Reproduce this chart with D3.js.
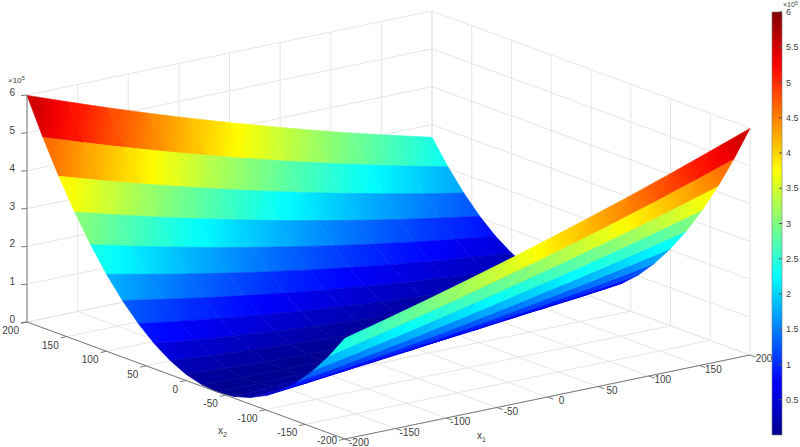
<!DOCTYPE html>
<html>
<head>
<meta charset="utf-8">
<script src="https://cdn.jsdelivr.net/npm/d3@7"></script>
<style>
  body { margin: 0; background: #fff; }
  text { font-family: "Liberation Sans", Arial, sans-serif; font-size: 10px; fill: #404040; }
</style>
</head>
<body>
<svg id="chart" width="800" height="447"></svg>
<script>
// grid of x1 and x2 sample values
var x1Vals = [-200, -160, -120, -80, -40, 0, 40, 80, 120, 160, 200];
var x2Vals = [-200, -180, -160, -140, -120, -100, -80, -60, -40, -20, 0,
              20, 40, 60, 80, 100, 120, 140, 160, 180, 200];
// z values in thousands, rows follow x2Vals, columns follow x1Vals
var zRows = [
  [266.2, 293.5, 322.2, 352.1, 383.4, 416.0, 450.0, 485.2, 521.8, 559.8, 599.0],
  [203.8, 227.8, 253.1, 279.7, 307.7, 337.0, 367.6, 399.5, 432.8, 467.4, 503.4],
  [149.8, 170.4, 192.4, 215.7, 240.3, 266.2, 293.5, 322.2, 352.1, 383.4, 416.0],
  [104.0, 121.3, 139.9, 159.9, 181.2, 203.8, 227.8, 253.1, 279.7, 307.7, 337.0],
  [66.6, 80.5, 95.9, 112.5, 130.5, 149.8, 170.4, 192.4, 215.7, 240.3, 266.2],
  [37.4, 48.1, 60.1, 73.4, 88.0, 104.0, 121.3, 139.9, 159.9, 181.2, 203.8],
  [16.6, 24.0, 32.6, 42.6, 53.9, 66.6, 80.5, 95.9, 112.5, 130.5, 149.8],
  [4.2, 8.2, 13.5, 20.1, 28.1, 37.4, 48.1, 60.1, 73.4, 88.0, 104.0],
  [0, 0.7, 2.7, 6.0, 10.7, 16.6, 24.0, 32.6, 42.6, 53.9, 66.6],
  [4.2, 1.5, 0.2, 0.2, 1.5, 4.2, 8.2, 13.5, 20.1, 28.1, 37.4],
  [16.6, 10.7, 6.0, 2.7, 0.7, 0, 0.7, 2.7, 6.0, 10.7, 16.6],
  [37.4, 28.1, 20.1, 13.5, 8.2, 4.2, 1.5, 0.2, 0.2, 1.5, 4.2],
  [66.6, 53.9, 42.6, 32.6, 24.0, 16.6, 10.7, 6.0, 2.7, 0.7, 0],
  [104.0, 88.0, 73.4, 60.1, 48.1, 37.4, 28.1, 20.1, 13.5, 8.2, 4.2],
  [149.8, 130.5, 112.5, 95.9, 80.5, 66.6, 53.9, 42.6, 32.6, 24.0, 16.6],
  [203.8, 181.2, 159.9, 139.9, 121.3, 104.0, 88.0, 73.4, 60.1, 48.1, 37.4],
  [266.2, 240.3, 215.7, 192.4, 170.4, 149.8, 130.5, 112.5, 95.9, 80.5, 66.6],
  [337.0, 307.7, 279.7, 253.1, 227.8, 203.8, 181.2, 159.9, 139.9, 121.3, 104.0],
  [416.0, 383.4, 352.1, 322.2, 293.5, 266.2, 240.3, 215.7, 192.4, 170.4, 149.8],
  [503.4, 467.4, 432.8, 399.5, 367.6, 337.0, 307.7, 279.7, 253.1, 227.8, 203.8],
  [599.0, 559.8, 521.8, 485.2, 450.0, 416.0, 383.4, 352.1, 322.2, 293.5, 266.2]
];
var x1Ticks = [-200, -150, -100, -50, 0, 50, 100, 150, 200];
var x2Ticks = [-200, -150, -100, -50, 0, 50, 100, 150, 200];
var zTicks = [0, 1, 2, 3, 4, 5, 6];
var cbTicks = [0.5, 1, 1.5, 2, 2.5, 3, 3.5, 4, 4.5, 5, 5.5, 6];

var svg = d3.select("#chart");
var defs = svg.append("defs");

// projection: front floor corner (x1=-200,x2=-200) -> (345,439)
var sx1 = d3.scaleLinear().domain([-200, 200]).range([0, 1]);
var sx2 = d3.scaleLinear().domain([-200, 200]).range([0, 1]);
var sz = d3.scaleLinear().domain([0, 600]).range([0, 227]);
var front = [345, 439], e1 = [405, -84], e2 = [-318, -117];
function proj(a, b, z) {
  var u = sx1(a), v = sx2(b);
  return [front[0] + u * e1[0] + v * e2[0], front[1] + u * e1[1] + v * e2[1] - sz(z)];
}
function pts(arr) { return arr.map(function (p) { return p.join(","); }).join(" "); }

var jet = d3.scaleLinear()
  .domain([0, 75, 225, 375, 525, 600])
  .range(["#00008f", "#0000ff", "#00ffff", "#ffff00", "#ff0000", "#800000"]);

var gridColor = "#e6e6e6";
var axisColor = "#7a7a7a";
var g = svg.append("g");

// floor grid and back walls
x1Ticks.forEach(function (t) {
  g.append("line").attr("stroke", gridColor)
    .attr("x1", proj(t, -200, 0)[0]).attr("y1", proj(t, -200, 0)[1])
    .attr("x2", proj(t, 200, 0)[0]).attr("y2", proj(t, 200, 0)[1]);
  g.append("line").attr("stroke", gridColor)
    .attr("x1", proj(t, 200, 0)[0]).attr("y1", proj(t, 200, 0)[1])
    .attr("x2", proj(t, 200, 600)[0]).attr("y2", proj(t, 200, 600)[1]);
});
x2Ticks.forEach(function (t) {
  g.append("line").attr("stroke", gridColor)
    .attr("x1", proj(-200, t, 0)[0]).attr("y1", proj(-200, t, 0)[1])
    .attr("x2", proj(200, t, 0)[0]).attr("y2", proj(200, t, 0)[1]);
  g.append("line").attr("stroke", gridColor)
    .attr("x1", proj(200, t, 0)[0]).attr("y1", proj(200, t, 0)[1])
    .attr("x2", proj(200, t, 600)[0]).attr("y2", proj(200, t, 600)[1]);
});
zTicks.forEach(function (t) {
  var z = t * 100;
  var a = proj(-200, 200, z), b = proj(200, 200, z), c = proj(200, -200, z);
  g.append("polyline").attr("fill", "none").attr("stroke", gridColor).attr("points", pts([a, b, c]));
});

// surface quads, far to near; each quad shaded along x1 between its edge colours
var quads = [];
for (var j = 0; j < x2Vals.length - 1; j++) {
  for (var i = 0; i < x1Vals.length - 1; i++) {
    var zs = [zRows[j][i], zRows[j][i + 1], zRows[j + 1][i + 1], zRows[j + 1][i]];
    var p = [proj(x1Vals[i], x2Vals[j], zs[0]), proj(x1Vals[i + 1], x2Vals[j], zs[1]),
             proj(x1Vals[i + 1], x2Vals[j + 1], zs[2]), proj(x1Vals[i], x2Vals[j + 1], zs[3])];
    quads.push({
      id: "q" + j + "_" + i,
      p: p,
      a: [(p[0][0] + p[3][0]) / 2, (p[0][1] + p[3][1]) / 2],
      b: [(p[1][0] + p[2][0]) / 2, (p[1][1] + p[2][1]) / 2],
      za: (zs[0] + zs[3]) / 2,
      zb: (zs[1] + zs[2]) / 2,
      depth: (x1Vals[i] + x1Vals[i + 1]) / 2 + 1.274 * (x2Vals[j] + x2Vals[j + 1]) / 2
    });
  }
}
quads.sort(function (a, b) { return b.depth - a.depth; });
quads.forEach(function (d) {
  var lg = defs.append("linearGradient").attr("id", d.id)
    .attr("gradientUnits", "userSpaceOnUse")
    .attr("x1", d.a[0]).attr("y1", d.a[1]).attr("x2", d.b[0]).attr("y2", d.b[1]);
  lg.append("stop").attr("offset", 0).attr("stop-color", jet(d.za));
  lg.append("stop").attr("offset", 0.5).attr("stop-color", jet((d.za + d.zb) / 2));
  lg.append("stop").attr("offset", 1).attr("stop-color", jet(d.zb));
});
svg.append("g").selectAll("polygon").data(quads).enter().append("polygon")
  .attr("points", function (d) { return pts(d.p); })
  .attr("fill", function (d) { return "url(#" + d.id + ")"; })
  .attr("stroke", function (d) { return "url(#" + d.id + ")"; })
  .attr("stroke-width", 0.6)
  .attr("stroke-linejoin", "round");

// axes
var ax = svg.append("g");
var lc = proj(-200, 200, 0), fc = proj(-200, -200, 0), rc = proj(200, -200, 0);
ax.append("polyline").attr("fill", "none").attr("stroke", axisColor).attr("points", pts([lc, fc, rc]));
ax.append("line").attr("stroke", axisColor)
  .attr("x1", lc[0]).attr("y1", lc[1]).attr("x2", lc[0]).attr("y2", proj(-200, 200, 600)[1]);

x2Ticks.forEach(function (t) {
  var p = proj(-200, t, 0);
  ax.append("line").attr("stroke", axisColor)
    .attr("x1", p[0]).attr("y1", p[1]).attr("x2", p[0] - 6).attr("y2", p[1] + 1.3);
  ax.append("text").attr("x", p[0] - 8).attr("y", Math.min(p[1] + 12, 444))
    .attr("text-anchor", "end").text(t);
});
x1Ticks.forEach(function (t) {
  var p = proj(t, -200, 0);
  ax.append("line").attr("stroke", axisColor)
    .attr("x1", p[0]).attr("y1", p[1]).attr("x2", p[0] + 6).attr("y2", p[1] + 2.2);
  ax.append("text").attr("x", p[0] + 14).attr("y", p[1] + 7)
    .attr("text-anchor", "middle").text(t);
});
zTicks.forEach(function (t) {
  var p = proj(-200, 200, t * 100);
  ax.append("line").attr("stroke", axisColor)
    .attr("x1", p[0]).attr("y1", p[1]).attr("x2", p[0] - 6).attr("y2", p[1] + 0.5);
  ax.append("text").attr("x", p[0] - 12).attr("y", p[1] + 1)
    .attr("text-anchor", "end").text(t);
});
ax.append("text").attr("x", 8).attr("y", 83).style("font-size", "8px")
  .html('×10<tspan dy="-3" style="font-size:6px">5</tspan>');
ax.append("text").attr("x", 218).attr("y", 434).html('x<tspan dy="3" style="font-size:7px">2</tspan>');
ax.append("text").attr("x", 477).attr("y", 439).html('x<tspan dy="3" style="font-size:7px">1</tspan>');

// colorbar
var cbY = d3.scaleLinear().domain([0, 600]).range([435, 12]);
var grad = defs.append("linearGradient").attr("id", "jetgrad")
  .attr("x1", 0).attr("y1", 1).attr("x2", 0).attr("y2", 0);
jet.domain().forEach(function (v) {
  grad.append("stop").attr("offset", v / 600).attr("stop-color", jet(v));
});
var cb = svg.append("g");
cb.append("rect").attr("x", 772).attr("y", cbY(600)).attr("width", 10)
  .attr("height", cbY(0) - cbY(600)).attr("fill", "url(#jetgrad)")
  .attr("stroke", axisColor).attr("stroke-width", 0.6);
cbTicks.forEach(function (t) {
  var y = cbY(t * 100);
  cb.append("line").attr("stroke", "#555").attr("x1", 779).attr("x2", 782).attr("y1", y).attr("y2", y);
  cb.append("text").attr("x", 786).attr("y", y + 3).style("font-size", "9px").text(t);
});
cb.append("text").attr("x", 783).attr("y", 7).style("font-size", "7px")
  .html('×10<tspan dy="-2" style="font-size:5px">5</tspan>');
</script>
</body>
</html>
